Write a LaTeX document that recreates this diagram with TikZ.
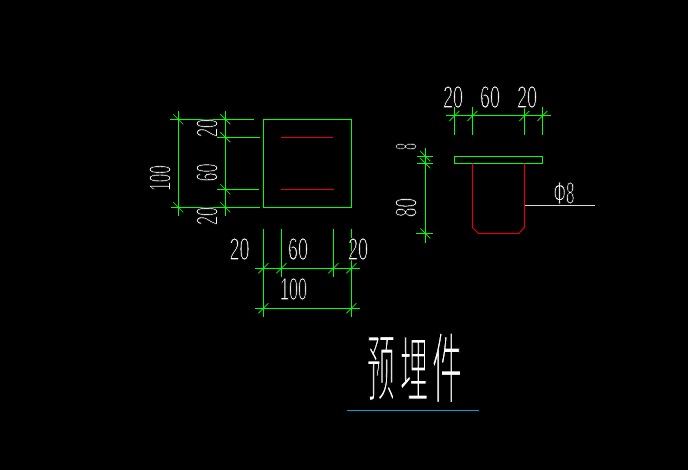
\documentclass[tikz,border=0pt]{standalone}
\usepackage{graphicx}
\usepackage{fontspec}
\setmainfont{Liberation Sans}
\newfontfamily\cjkfont{Noto Sans CJK SC}
\definecolor{cadgreen}{RGB}{0,255,0}
\definecolor{cadred}{RGB}{230,0,0}
\definecolor{cadblue}{RGB}{0,160,220}
\tikzset{
  x=1pt,y=-1pt,
  dimline/.style={draw=cadgreen,line width=1pt},
  dimtick/.style={draw=cadgreen,line width=.7pt},
  steel/.style={draw=cadred,line width=1pt},
  leader/.style={draw=white!85!black,line width=1pt},
  cadlabel/.style={text=white,inner sep=0pt,outer sep=0pt},
}
% glyphs are thinned by stroking their edge in the black of the background
\newcommand{\thinglyph}[2]{\special{pdf:code 2 Tr 0 0 0 RG #1 w}#2\special{pdf:code 0 Tr}}
\newcommand{\cadtext}[3]{\resizebox{#1pt}{#2pt}{\thinglyph{0.3}{#3}}}
\newcommand{\cadhan}[3]{\resizebox{#1pt}{#2pt}{\cjkfont\thinglyph{0.28}{#3}}}
\begin{document}
\begin{tikzpicture}
\fill[black] (0,0) rectangle (688,470);
\useasboundingbox (0,0) rectangle (688,470);

% front view
\draw[dimline] (263.3,119.3) rectangle (351.3,207.3);
\draw[steel] (281,137.3) -- (333,137.3);
\draw[steel] (281,189.3) -- (334,189.3);
\draw[dimline] (178.3,111) -- (178.3,216);
\draw[dimline] (225.3,111) -- (225.3,216);
\draw[dimline] (170,119.3) -- (254,119.3);
\draw[dimline] (217,137.3) -- (260,137.3);
\draw[dimline] (217,189.3) -- (259,189.3);
\draw[dimline] (171,207.3) -- (260,207.3);
\foreach \a/\b in {178.3/119.3,178.3/207.3,225.3/119.3,225.3/137.3,225.3/189.3,225.3/207.3}{
  \draw[dimtick] (\a-5,\b-5) -- (\a+5,\b+5);}
\node[cadlabel,rotate=90] (tA) at (160,178) {\cadtext{25.5}{21.5}{100}};
\node[cadlabel,rotate=90] (tB) at (207,128) {\cadtext{18}{21.5}{20}};
\node[cadlabel,rotate=90] (tC) at (207,172.5) {\cadtext{18}{21.5}{60}};
\node[cadlabel,rotate=90] (tD) at (207,216) {\cadtext{18}{21.5}{20}};

% bottom dimensions
\draw[dimline] (263.3,229) -- (263.3,317);
\draw[dimline] (281.3,229) -- (281.3,277);
\draw[dimline] (333.3,229) -- (333.3,277);
\draw[dimline] (351.3,229) -- (351.3,317);
\draw[dimline] (255,268.3) -- (360,268.3);
\draw[dimline] (255,308.3) -- (360,308.3);
\foreach \a/\b in {263.3/268.3,281.3/268.3,333.3/268.3,351.3/268.3,263.3/308.3,351.3/308.3}{
  \draw[dimtick] (\a-5,\b+5) -- (\a+5,\b-5);}
\node[cadlabel] (tE) at (239.5,249) {\cadtext{20}{22}{20}};
\node[cadlabel] (tF) at (298,249) {\cadtext{20}{22}{60}};
\node[cadlabel] (tG) at (358,249) {\cadtext{20}{22}{20}};
\node[cadlabel] (tH) at (293.5,289) {\cadtext{27}{22}{100}};

% side view
\draw[dimline] (454.3,156.3) rectangle (542.3,163.3);
\draw[steel] (472.3,163.3) -- (472.3,227.3) -- (478.3,233.3) -- (519,233.3) -- (524.3,227.3) -- (524.3,163.3);
\draw[leader] (525,205.3) -- (595,205.3);
\draw[dimline] (454.3,107) -- (454.3,135);
\draw[dimline] (472.3,107) -- (472.3,135);
\draw[dimline] (524.3,107) -- (524.3,135);
\draw[dimline] (542.3,107) -- (542.3,135);
\draw[dimline] (446,116) -- (550.7,116);
\foreach \a/\b in {454.3/116,472.3/116,524.3/116,542.3/116}{
  \draw[dimtick] (\a-5,\b+5) -- (\a+5,\b-5);}
\node[cadlabel] (tI) at (453,97) {\cadtext{20}{22}{20}};
\node[cadlabel] (tJ) at (490,97) {\cadtext{20}{22}{60}};
\node[cadlabel] (tK) at (527,97) {\cadtext{20}{22}{20}};
\draw[dimline] (425.3,148) -- (425.3,243);
\draw[dimline] (417,156.3) -- (433,156.3);
\draw[dimline] (417,163.3) -- (433,163.3);
\draw[dimline] (416,233.5) -- (433,233.5);
\foreach \a/\b in {425.3/156.3,425.3/163.3,425.3/233.5}{
  \draw[dimtick] (\a-5,\b-5) -- (\a+5,\b+5);}
\node[cadlabel,rotate=90] (tL) at (406,146.5) {\cadtext{7}{21.5}{8}};
\node[cadlabel,rotate=90] (tM) at (406,207.5) {\cadtext{19}{21.5}{80}};
\node[cadlabel] (tN) at (564,193) {\cadtext{21}{22}{Φ8}};

% title
\node[cadlabel] (tO) at (381,368.5) {\cadhan{28}{59}{预}};
\node[cadlabel] (tP) at (414,368) {\cadhan{28}{60}{埋}};
\node[cadlabel] (tQ) at (447,367.5) {\cadhan{30}{65}{件}};
\draw[cadblue,line width=1pt] (347,410.3) -- (479,410.3);
\end{tikzpicture}
\end{document}
